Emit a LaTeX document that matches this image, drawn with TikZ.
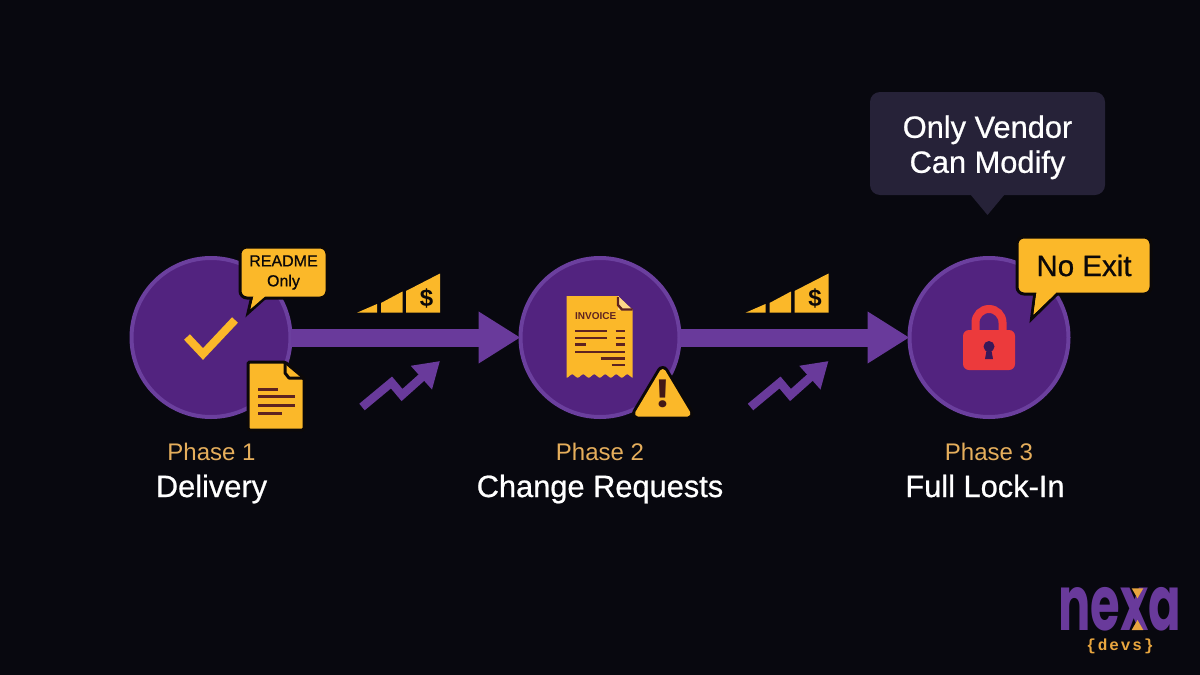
\documentclass[tikz,border=0pt]{standalone}
\usepackage{fontspec}
\setmainfont{Liberation Sans}
\newfontfamily\medsans[FakeBold=0.7]{Liberation Sans}
\newfontfamily\logosans{Poppins}
\newfontfamily\logomono[LetterSpace=12]{Liberation Mono}
\usetikzlibrary{arrows.meta}
\definecolor{pagebg}{HTML}{08080F}
\definecolor{phasefill}{HTML}{52237F}
\definecolor{phaserim}{HTML}{6B3F9E}
\definecolor{flowcol}{HTML}{693A9B}
\definecolor{tagyellow}{HTML}{FBB829}
\definecolor{tagline}{HTML}{0B0809}
\definecolor{inkbrown}{HTML}{5E2320}
\definecolor{logoorange}{HTML}{E9A63F}
\definecolor{phaseorange}{HTML}{E5AE5C}
\definecolor{slatebox}{HTML}{262238}
\definecolor{lockred}{HTML}{EC3A3C}
\begin{document}
\begin{tikzpicture}[x=1pt,y=-1pt,
    phase/.style={circle,minimum size=159pt,inner sep=0pt,outer sep=0pt,fill=phasefill,draw=phaserim,line width=4pt},
    flow/.style={draw=flowcol,line width=18pt,-{Triangle[length=42pt,width=49pt]}},
    tag/.style={rounded corners=7pt,fill=tagyellow,draw=tagline,line width=3pt,align=center,text=tagline,inner sep=0pt},
    tailline/.style={fill=tagyellow,draw=tagline,line width=3pt,line join=miter},
    phasenum/.style={anchor=base,text=phaseorange,font=\fontsize{24}{28}\selectfont},
    phasename/.style={anchor=base,text=white,font=\fontsize{30.8}{34}\selectfont\medsans},
    inkline/.style={draw=inkbrown,line width=3pt}]
    \fill[pagebg] (0,0) rectangle (1200,675);
    \useasboundingbox (0,0) rectangle (1200,675);
    \node[phase] (deliverystep) at (211,337.5) {};
    \node[phase] (changestep) at (600,337.5) {};
    \node[phase] (lockstep) at (989,337.5) {};
    \draw[flow] (deliverystep) -- (changestep);
    \draw[flow] (changestep) -- (lockstep);
    \foreach \s in {0,388.5} {
        \fill[tagyellow] (\s+357,312.7)--(\s+377,304)--(\s+377,312.7)--cycle;
        \fill[tagyellow] (\s+381,312.7)--(\s+381,303)--(\s+402.5,291.5)--(\s+402.5,312.7)--cycle;
        \fill[tagyellow] (\s+406,312.7)--(\s+406,291)--(\s+440,273.5)--(\s+440,312.7)--cycle;
        \node[text=tagline,font=\fontsize{24}{24}\selectfont\bfseries] (dollar\s) at (\s+426.5,298.5) {\$};
        \draw[flowcol,line width=8.5pt,line join=miter,-{Triangle[length=25pt,width=30pt]}]
            (\s+362,407)--(\s+391.5,382.5)--(\s+402,395)--(\s+440,361);
    }
    \draw[tagyellow,line width=8pt] (187,337)--(203,354)--(235,320);
    \draw[tailline] (252,296)--(248,313)--(267,296)--cycle;
    \node[tag,minimum width=87pt,minimum height=51pt,font=\fontsize{16}{20}\selectfont\medsans] (readmetag) at (283.5,272.5) {README\\Only};
    \fill[tagyellow] (253.5,296)--(250.5,309)--(265,296.5)--(265,294)--(253.5,294)--cycle;
    \draw[tailline,fill=tagyellow,rounded corners=1.5pt] (248,362)--(285,362)--(304,378)--(304,430)--(248,430)--cycle;
    \draw[tagline,line width=3pt,line join=round] (285,362)--(285,373)--(289,378)--(304,378);
    \draw[inkline] (258,389)--(278,389) (258,396.5)--(295,396.5) (258,405)--(295,405) (258,413)--(282,413);
    \fill[tagyellow] (566.7,296)--(618,296)--(632.7,310)
        --plot[domain=632.7:566.7,samples=90] (\x,{376+1.6*cos((\x-566.7)*32.7)})--cycle;
    \fill[tagyellow!55!white] (618,296)--(632.7,310)--(618,310)--cycle;
    \draw[inkbrown,line width=2.4pt] (618,297)--(618,305)--(622,309.5)--(632.7,309.5);
    \node[anchor=west,inner sep=0pt,text=inkbrown,font=\fontsize{10}{10}\selectfont\bfseries] (invoicetxt) at (575,316.5) {INVOICE};
    \draw[inkline,line width=2.4pt] (575,331)--(606.7,331) (615.7,331)--(625,331) (575,337.7)--(606.7,337.7) (615.7,337.7)--(625,337.7)
        (575,344.3)--(586,344.3) (615.7,344.3)--(625,344.3) (575,351.7)--(625,351.7) (600.7,358.3)--(625,358.3) (611.7,364.7)--(625,364.7);
    \draw[tagyellow,draw=tagline,line width=12pt,line join=round] (662.7,372)--(638,413.5)--(687.5,413.5)--cycle;
    \fill[tagyellow,draw=tagyellow,line width=6pt,line join=round] (662.7,372)--(638,413.5)--(687.5,413.5)--cycle;
    \node[text=inkbrown!70!black,font=\fontsize{38}{38}\selectfont\logosans\bfseries] (warnmark) at (662.7,394) {!};
    \draw[lockred,line width=8pt] (975.5,332)--(975.5,322.5) arc[start angle=180,end angle=360,radius=13.5]--(1002.5,332);
    \fill[lockred,rounded corners=6pt] (963,330) rectangle (1015,370);
    \fill[phasefill!70!black] (989,346.5) circle (5.5pt);
    \fill[phasefill!70!black] (987,348)--(991,348)--(993,359)--(985,359)--cycle;
    \draw[tailline] (1035,292)--(1031.5,319)--(1059,292)--cycle;
    \node[tag,minimum width=134pt,minimum height=57pt,font=\fontsize{29.5}{30}\selectfont\medsans] (noexittag) at (1084,265.5) {No Exit};
    \fill[tagyellow] (1036.5,292)--(1033.5,314.5)--(1056,293)--(1056,291)--cycle;
    \fill[slatebox] (970,194)--(1005,194)--(987.5,215)--cycle;
    \node[rounded corners=10pt,fill=slatebox,minimum width=235pt,minimum height=103pt,align=center,text=white,font=\fontsize{30.8}{35}\selectfont\medsans] (vendorbox) at (987.5,143.5) {\rule{0pt}{30pt}Only Vendor\\Can Modify};
    \node[phasenum] (phaseone) at (211.5,460.5) {Phase 1};
    \node[phasename] (deliveryname) at (211.5,497) {Delivery};
    \node[phasenum] (phasetwo) at (600,460.5) {Phase 2};
    \node[phasename] (changename) at (600,497) {Change Requests};
    \node[phasenum] (phasethree) at (989,460.5) {Phase 3};
    \node[phasename] (lockname) at (985,497) {Full Lock-In};
    \node[text=flowcol,inner sep=0pt,xscale=.8,yscale=1.27,font=\fontsize{60}{60}\selectfont\logosans\bfseries] (logoword) at (1120,609) {nexa};
    \fill[logoorange] (1131.7,588.3)--(1143.3,588.3)--(1137.5,598.3)--cycle (1131.7,630)--(1143.3,630)--(1137.5,620)--cycle;
    \node[text=logoorange,inner sep=0pt,font=\fontsize{16}{16}\selectfont\logomono\bfseries] (logosub) at (1120,646) {\{devs\}};
\end{tikzpicture}
\end{document}
